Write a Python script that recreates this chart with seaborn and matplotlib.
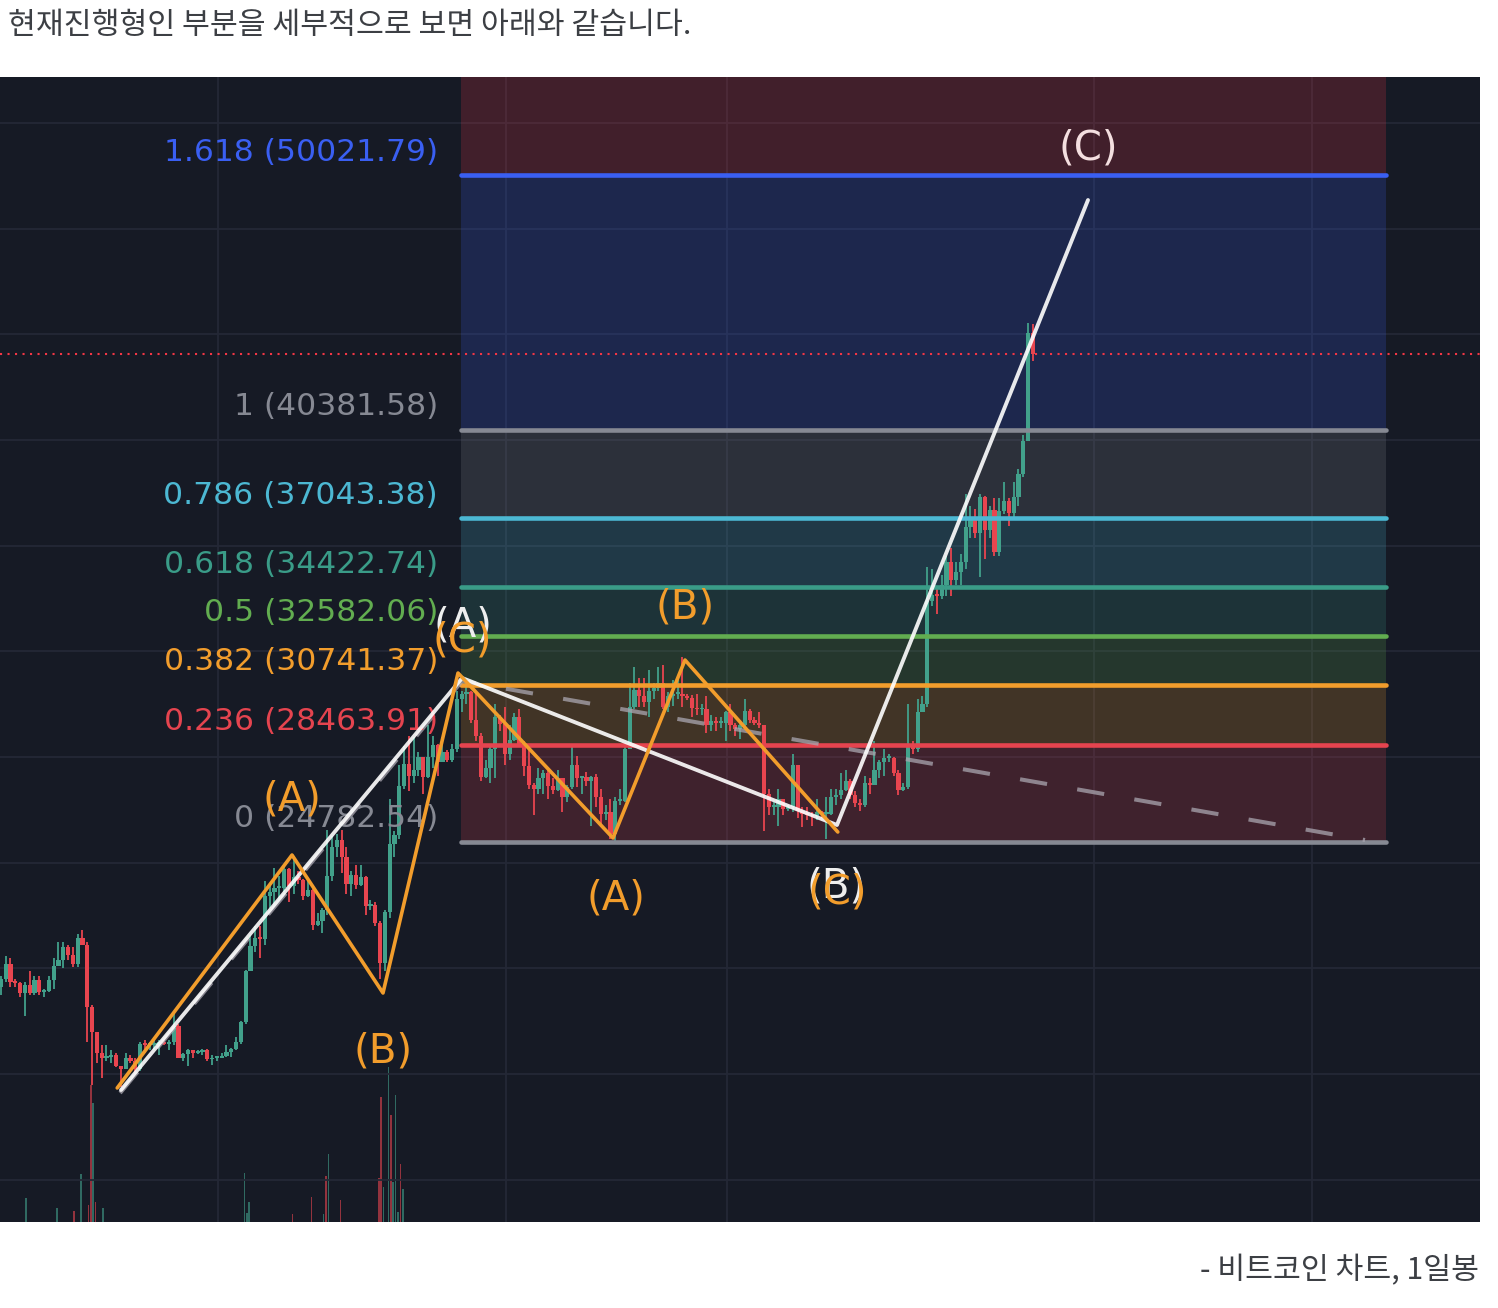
import matplotlib
matplotlib.use("Agg")
import numpy as np
import pandas as pd
import matplotlib.pyplot as plt
import matplotlib.dates as mdates
import seaborn as sns

# ------------------------------------------------------------------ data
title_text = "현재진행형인 부분을 세부적으로 보면 아래와 같습니다."
caption_text = "- 비트코인 차트, 1일봉"

# BTC/USD, 2-day candles (thousand USD); open = previous close
candle_start = "2022-10-02"
first_open = 19.31
closes = [
    # Oct 2022
    19.6, 20.15, 19.5, 19.45, 19.05, 19.35, 19.05, 19.55, 19.1, 19.15, 19.55, 20.1, 20.3, 20.8, 20.5,
    # Nov 2022
    20.15, 21.15, 20.9, 18.55, 17.6, 16.8, 16.6, 16.65, 16.7, 16.3, 16.2, 16.6, 16.5, 16.2, 17.15,
    # Dec 2022
    17.1, 17.1, 17.1, 17.2, 17.15, 17.2, 17.8, 16.6, 16.75, 16.9, 16.8, 16.85, 16.9, 16.55, 16.6, 16.6,
    # Jan 2023
    16.68, 16.85, 16.95, 17.2, 17.95, 19.9, 20.85, 21.15, 21.1, 22.75, 22.9, 23.05, 23.05, 23.75, 23.1,
    # Feb
    23.45, 23.35, 22.75, 22.95, 21.65, 21.8, 22.2, 23.5, 24.6, 24.85, 24.2, 23.2, 23.55, 23.15,
    # Mar
    23.45, 22.35, 22.4, 21.7, 20.2, 22.15, 24.7, 25.05, 26.9, 27.75, 27.3, 27.5, 28.0, 27.25, 28.0, 28.45,
    # Apr
    27.8, 28.2, 27.9, 28.3, 30.2, 30.4, 30.45, 29.4, 28.8, 27.25, 27.6, 28.3, 29.5, 29.25, 28.1,
    # May
    28.65, 29.5, 28.45, 27.65, 26.95, 26.8, 27.2, 27.4, 26.9, 26.75, 27.2, 26.5, 26.85, 27.7, 27.2,
    # Jun
    27.25, 27.1, 27.25, 26.5, 25.85, 25.9, 25.1, 26.35, 26.35, 28.3, 29.9, 30.55, 30.3, 30.1, 30.5,
    # Jul
    30.6, 30.8, 29.9, 30.3, 30.4, 30.4, 30.3, 30.25, 29.85, 29.8, 29.8, 29.2, 29.35, 29.3, 29.3, 29.7,
    # Aug
    29.2, 29.05, 29.2, 29.75, 29.4, 29.3, 29.2, 26.6, 26.1, 26.1, 26.4, 26.05, 26.1, 27.7, 25.95,
    # Sep
    25.85, 25.8, 25.75, 25.9, 25.85, 25.85, 26.5, 26.55, 26.75, 27.1, 26.55, 26.25, 26.2, 27.0, 26.95,
    # Oct
    27.5, 27.8, 27.95, 27.95, 27.4, 26.75, 26.85, 28.5, 28.3, 29.7, 30.0, 33.9, 34.15, 34.1, 34.5, 35.4,
    # Nov
    34.7, 35.0, 35.4, 36.7, 37.05, 36.5, 37.85, 36.6, 37.35, 35.75, 37.3, 37.7, 37.25, 37.85, 38.7,
    # Dec 2023
    39.95, 44.05, 43.26,
]
highs = [
    19.7, 20.45, 20.4, 19.6, 19.5, 19.5, 19.9, 19.7, 19.7, 19.2, 19.7, 20.4, 21.0, 21.0, 20.9,
    20.8, 21.3, 21.45, 21.0, 18.6, 17.6, 17.1, 17.1, 16.9, 16.8, 16.3, 16.8, 16.7, 16.6, 17.2,
    17.3, 17.2, 17.4, 17.3, 17.3, 17.3, 18.4, 17.9, 16.8, 16.95, 16.9, 16.9, 16.95, 16.95, 16.7, 16.65,
    16.8, 17.1, 17.0, 17.4, 18.0, 19.95, 21.25, 21.6, 21.6, 23.3, 23.15, 23.8, 23.5, 23.95, 23.8,
    24.25, 23.7, 23.4, 23.4, 23.0, 22.1, 22.3, 25.25, 25.0, 25.1, 25.25, 24.6, 23.7, 23.9,
    23.9, 23.5, 22.6, 22.5, 21.8, 22.2, 26.4, 25.2, 27.7, 28.4, 28.8, 28.75, 28.2, 28.0, 29.2, 28.8,
    28.5, 28.75, 28.25, 28.5, 30.5, 30.5, 31.0, 30.5, 30.5, 28.9, 27.9, 28.4, 30.0, 29.6, 29.9,
    29.2, 29.65, 29.8, 28.6, 28.3, 27.0, 27.6, 27.5, 27.5, 27.2, 27.5, 27.2, 26.95, 28.45, 28.05,
    27.3, 27.45, 27.3, 27.35, 26.8, 26.2, 26.4, 26.5, 26.8, 28.4, 30.8, 31.4, 31.0, 31.0, 31.3,
    30.8, 31.4, 31.5, 30.45, 30.9, 31.0, 31.8, 30.4, 30.35, 30.4, 30.0, 30.3, 29.6, 29.5, 29.5, 29.75,
    30.0, 29.3, 29.3, 30.2, 29.8, 29.5, 29.7, 29.2, 26.8, 26.3, 26.8, 26.4, 26.2, 28.1, 27.7,
    26.1, 26.1, 25.9, 26.4, 25.95, 26.5, 26.8, 26.8, 27.4, 27.5, 27.15, 26.7, 26.4, 27.3, 27.2,
    28.6, 27.9, 28.3, 28.1, 28.0, 27.5, 27.0, 30.0, 28.6, 30.2, 30.3, 35.2, 35.1, 34.45, 34.9, 35.6,
    35.9, 35.4, 35.7, 37.95, 37.5, 37.4, 37.95, 37.9, 37.5, 37.8, 37.8, 38.4, 37.8, 38.4, 38.9,
    40.2, 44.45, 44.4,
]
lows = [
    19.0, 19.5, 19.3, 19.3, 18.9, 18.2, 19.0, 19.0, 19.0, 18.9, 19.1, 19.2, 20.1, 20.0, 20.3,
    20.05, 20.05, 20.9, 17.2, 15.6, 16.4, 15.85, 16.5, 16.4, 16.25, 15.5, 16.2, 16.4, 16.0, 16.1,
    16.8, 16.9, 16.9, 16.7, 17.1, 16.9, 17.1, 16.6, 16.5, 16.3, 16.6, 16.75, 16.7, 16.5, 16.35, 16.5,
    16.6, 16.65, 16.65, 16.9, 17.15, 17.9, 19.9, 20.6, 20.4, 20.9, 22.3, 22.4, 22.6, 22.9, 22.5,
    22.8, 23.2, 22.6, 22.7, 21.45, 21.6, 21.35, 22.0, 23.3, 24.2, 23.6, 22.8, 22.75, 23.0,
    23.1, 22.0, 22.2, 21.6, 19.6, 19.9, 21.9, 24.2, 24.9, 26.8, 26.7, 27.0, 27.3, 26.6, 27.2, 27.6,
    27.3, 27.8, 27.8, 27.8, 28.2, 29.7, 30.0, 29.3, 28.6, 27.1, 27.2, 27.0, 27.2, 29.0, 27.7,
    27.9, 28.6, 28.4, 27.3, 26.8, 25.8, 26.6, 26.6, 26.4, 26.6, 26.7, 25.9, 26.3, 26.8, 26.85,
    26.6, 26.9, 25.4, 26.1, 25.4, 25.6, 24.9, 24.8, 26.2, 26.3, 28.3, 29.8, 29.9, 29.9, 29.5,
    30.2, 30.5, 29.8, 29.7, 29.95, 30.2, 29.9, 30.15, 29.5, 29.6, 29.6, 28.9, 29.0, 29.0, 29.1, 28.6,
    29.0, 28.8, 28.7, 29.1, 29.3, 29.2, 29.1, 25.2, 25.8, 25.8, 25.4, 25.8, 25.95, 25.9, 25.7,
    25.35, 25.6, 25.4, 25.6, 25.7, 24.9, 25.8, 26.2, 26.4, 26.7, 26.4, 26.1, 25.95, 26.1, 26.6,
    26.95, 27.2, 27.3, 27.8, 27.3, 26.55, 26.7, 26.8, 28.1, 28.2, 29.7, 29.9, 33.7, 33.4, 34.0, 34.1,
    34.1, 34.5, 34.5, 35.1, 36.3, 36.3, 34.8, 35.5, 36.3, 35.6, 35.6, 37.2, 36.75, 37.1, 37.5,
    38.6, 39.95, 43.0,
]

# daily volume bars that rise into view (arbitrary units)
vol_dates = ["2022-10-13", "2022-10-26", "2022-11-02", "2022-11-05", "2022-11-08", "2022-11-09",
             "2022-11-10", "2022-11-11", "2022-11-14", "2023-01-12", "2023-01-13", "2023-01-14",
             "2023-02-01", "2023-02-09", "2023-02-14", "2023-02-15", "2023-02-16", "2023-02-21",
             "2023-03-09", "2023-03-10", "2023-03-11", "2023-03-13", "2023-03-14", "2023-03-15",
             "2023-03-16", "2023-03-17", "2023-03-18", "2023-03-19"]
vol_values = [64, 54, 51, 88, 57, 177, 159, 60, 54, 89, 49, 60, 48, 65, 48, 86, 108, 62,
              84, 165, 75, 195, 147, 80, 167, 50, 98, 73]
vol_up = [1, 1, 0, 1, 0, 0, 1, 0, 1, 1, 1, 1, 0, 0, 1, 0, 1, 0, 0, 0, 1, 1, 0, 1, 1, 1, 0, 1]

# Fibonacci extension
fib_ratios = [0, 0.236, 0.382, 0.5, 0.618, 0.786, 1, 1.618, 2.618]
fib_prices = [24782.54, 28463.91, 30741.37, 32582.06, 34422.74, 37043.38, 40381.58, 50021.79, 65620.83]
fib_colors = ["#868993", "#e5444f", "#f29d2c", "#62ad50", "#3a9c88", "#4cb8d3", "#868993", "#3a5ff2", "#f23645"]
fib_start, fib_end = "2023-04-12 06:00", "2024-05-01 16:00"

# Elliott wave paths
orange_dates = ["2022-11-20", "2023-01-31 20:00", "2023-03-10 18:00", "2023-04-11",
                "2023-06-14 14:00", "2023-07-14 14:00", "2023-09-16 06:00"]
orange_prices = [15469, 24290, 19066, 31181, 24934, 31673, 25161]
white_dates = ["2022-11-21 14:00", "2023-04-12 17:00", "2023-09-15 22:00", "2023-12-29 12:00"]
white_prices = [15393, 30992, 25426, 49089]
trend_dates = ["2022-11-21 05:00", "2023-04-12 17:00", "2024-04-22 22:00"]
trend_prices = [15279, 30878, 24858]

wave_texts = ["(A)", "(B)", "(A)", "(C)", "(B)", "(A)", "(B)", "(C)", "(C)"]
wave_dates = ["2023-01-31 20:00", "2023-03-10 18:00", "2023-04-13 00:00", "2023-04-12 17:00",
              "2023-07-14 14:00", "2023-06-15 20:00", "2023-09-15 12:00", "2023-09-16 00:00",
              "2023-12-29 12:00"]
wave_prices = [26373, 16832, 32998, 32393, 33680, 22662, 23079, 22852, 51058]
wave_colors = ["#f29d2c", "#f29d2c", "#eeeeee", "#f29d2c", "#f29d2c", "#f29d2c", "#eeeeee",
               "#f29d2c", "#f4dfe0"]

grid_prices = [12000, 16000, 20000, 24000, 28000, 32000, 36000, 40000, 44000, 48000, 52000]
grid_dates = ["2023-01-01", "2023-05-01", "2023-08-01", "2024-01-01", "2024-04-01"]
view_dates = ["2022-10-02 04:00", "2024-06-09 20:00"]
view_prices = [10395, 53747]

# ------------------------------------------------------------------ style
sns.set_theme(style="dark")
plt.rcParams["font.family"] = ["DejaVu Sans", "Noto Sans CJK KR"]

BG = "#161a25"
GREEN, RED = "#42a18b", "#e8454f"
GRID = "#242836"


def dn(s):
    return mdates.date2num(pd.to_datetime(s, format="ISO8601"))


W, H = 1498, 1308
fig = plt.figure(figsize=(W / 100, H / 100), dpi=100, facecolor="white")
rect = [0, 86 / H, 1480 / W, 1145 / H]
ax_vol = fig.add_axes(rect)
ax = fig.add_axes(rect)
ax_vol.set_facecolor(BG)
ax.patch.set_visible(False)
for a in (ax, ax_vol):
    for s in a.spines.values():
        s.set_visible(False)
    a.set_xticks([])
    a.set_yticks([])
    a.grid(False)
    a.set_xlim(dn(view_dates[0]), dn(view_dates[1]))
ax.set_ylim(*view_prices)
ax_vol.set_ylim(40, 1185)

# volume
vx = dn(vol_dates)
ax_vol.bar(vx, vol_values, width=0.6, color=[GREEN if u else RED for u in vol_up],
           alpha=0.6, linewidth=0)

# grid
for p in grid_prices:
    ax.axhline(p, color=GRID, lw=1.3, zorder=0.5)
for d in grid_dates:
    ax.axvline(dn(d), color=GRID, lw=1.3, zorder=0.5)

# fib bands, lines and labels
fx0, fx1 = dn(fib_start), dn(fib_end)
for i in range(len(fib_prices) - 1):
    ax.fill_between([fx0, fx1], fib_prices[i], fib_prices[i + 1], color=fib_colors[i + 1],
                    alpha=0.2, lw=0, zorder=1)
for r, p, col in zip(fib_ratios, fib_prices, fib_colors):
    ax.plot([fx0, fx1], [p, p], color=col, lw=3.3, solid_capstyle="round", zorder=4)
    if p < view_prices[1]:
        ax.annotate(f"{r:g} ({p:.2f})", xy=(fx0, p), xytext=(-16.5, 10.5),
                    textcoords="offset points", ha="right", va="baseline",
                    color=col, fontsize=22.6, zorder=5.5)

# candles
cd = pd.date_range(candle_start, periods=len(closes), freq="2D") + pd.Timedelta(hours=12)
cx = mdates.date2num(cd)
c = np.array(closes) * 1000
o = np.r_[first_open, closes[:-1]] * 1000
hi = np.maximum(np.array(highs) * 1000, np.maximum(o, c))
lo = np.minimum(np.array(lows) * 1000, np.minimum(o, c))
ccol = np.where(c >= o, GREEN, RED)
ax.vlines(cx, lo, hi, colors=ccol, lw=1.3, zorder=3)
ax.bar(cx, np.maximum(np.abs(c - o), 70), bottom=np.minimum(o, c), width=1.75,
       color=ccol, linewidth=0, zorder=3.1)

# last price line
ax.axhline(c[-1], color="#f23645", lw=1.5, ls=(0, (1, 2.6)), zorder=2.5)

# trend dashed line
ax.plot(dn(trend_dates), trend_prices, color="#aaa6b0", alpha=0.75, lw=2.9,
        ls=(0, (6.8, 7.6)), zorder=5)

# wave lines
sns.lineplot(x=dn(white_dates), y=white_prices, ax=ax, color="white", alpha=0.9, lw=2.8,
             sort=False, estimator=None, legend=False, zorder=6,
             solid_capstyle="round", solid_joinstyle="round")
sns.lineplot(x=dn(orange_dates), y=orange_prices, ax=ax, color="#f29d2c", lw=2.6,
             sort=False, estimator=None, legend=False, zorder=7,
             solid_capstyle="round", solid_joinstyle="round")

for t, d, p, col in zip(wave_texts, wave_dates, wave_prices, wave_colors):
    ax.text(dn(d), p, t, color=col, fontsize=29, ha="center", va="center", zorder=8)

# page text
fig.text(8 / W, 1 - 25 / H, title_text, ha="left", va="center", fontsize=21.8,
         color="#3c3f44", family=["Noto Sans CJK KR", "DejaVu Sans"])
fig.text(1479 / W, 1 - 1271 / H, caption_text, ha="right", va="center", fontsize=21.8,
         color="#3c3f44", family=["Noto Sans CJK KR", "DejaVu Sans"])

fig.savefig("out.png", dpi=100, facecolor="white")
